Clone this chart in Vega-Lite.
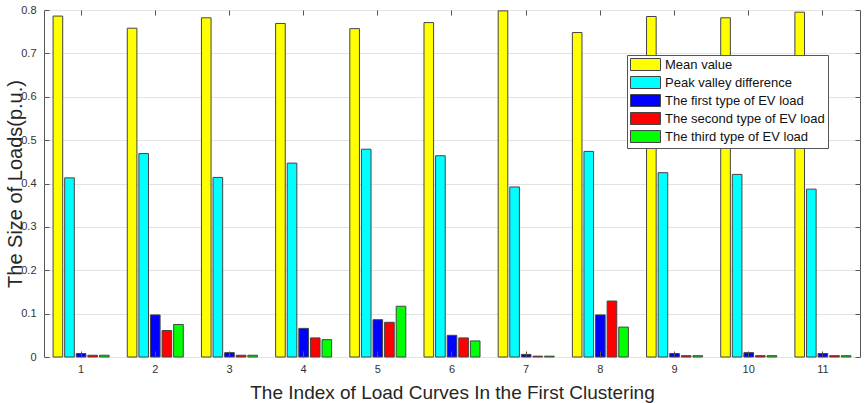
{
  "$schema": "https://vega.github.io/schema/vega-lite/v6.json",
  "width": 816,
  "height": 347,
  "autosize": "none",
  "padding": {"left": 44, "top": 10, "right": 5, "bottom": 46},
  "background": "white",
  "config": {
    "font": "Liberation Sans",
    "view": {"stroke": "#555555", "strokeWidth": 1},
    "axis": {"labelFont": "Liberation Sans", "titleFont": "Liberation Sans", "labelColor": "#333333", "titleColor": "#262626", "titleFontWeight": "normal"}
  },
  "data": {
    "values": [
      {"idx": 1, "series": "Mean value", "value": 0.786},
      {"idx": 1, "series": "Peak valley difference", "value": 0.413},
      {"idx": 1, "series": "The first type of EV load", "value": 0.008},
      {"idx": 1, "series": "The second type of EV load", "value": 0.004},
      {"idx": 1, "series": "The third type of EV load", "value": 0.004},
      {"idx": 2, "series": "Mean value", "value": 0.758},
      {"idx": 2, "series": "Peak valley difference", "value": 0.469},
      {"idx": 2, "series": "The first type of EV load", "value": 0.097},
      {"idx": 2, "series": "The second type of EV load", "value": 0.061},
      {"idx": 2, "series": "The third type of EV load", "value": 0.075},
      {"idx": 3, "series": "Mean value", "value": 0.782},
      {"idx": 3, "series": "Peak valley difference", "value": 0.414},
      {"idx": 3, "series": "The first type of EV load", "value": 0.010},
      {"idx": 3, "series": "The second type of EV load", "value": 0.004},
      {"idx": 3, "series": "The third type of EV load", "value": 0.004},
      {"idx": 4, "series": "Mean value", "value": 0.769},
      {"idx": 4, "series": "Peak valley difference", "value": 0.447},
      {"idx": 4, "series": "The first type of EV load", "value": 0.066},
      {"idx": 4, "series": "The second type of EV load", "value": 0.044},
      {"idx": 4, "series": "The third type of EV load", "value": 0.040},
      {"idx": 5, "series": "Mean value", "value": 0.757},
      {"idx": 5, "series": "Peak valley difference", "value": 0.479},
      {"idx": 5, "series": "The first type of EV load", "value": 0.086},
      {"idx": 5, "series": "The second type of EV load", "value": 0.080},
      {"idx": 5, "series": "The third type of EV load", "value": 0.117},
      {"idx": 6, "series": "Mean value", "value": 0.771},
      {"idx": 6, "series": "Peak valley difference", "value": 0.464},
      {"idx": 6, "series": "The first type of EV load", "value": 0.050},
      {"idx": 6, "series": "The second type of EV load", "value": 0.044},
      {"idx": 6, "series": "The third type of EV load", "value": 0.037},
      {"idx": 7, "series": "Mean value", "value": 0.798},
      {"idx": 7, "series": "Peak valley difference", "value": 0.392},
      {"idx": 7, "series": "The first type of EV load", "value": 0.006},
      {"idx": 7, "series": "The second type of EV load", "value": 0.002},
      {"idx": 7, "series": "The third type of EV load", "value": 0.002},
      {"idx": 8, "series": "Mean value", "value": 0.748},
      {"idx": 8, "series": "Peak valley difference", "value": 0.474},
      {"idx": 8, "series": "The first type of EV load", "value": 0.097},
      {"idx": 8, "series": "The second type of EV load", "value": 0.129},
      {"idx": 8, "series": "The third type of EV load", "value": 0.069},
      {"idx": 9, "series": "Mean value", "value": 0.785},
      {"idx": 9, "series": "Peak valley difference", "value": 0.425},
      {"idx": 9, "series": "The first type of EV load", "value": 0.008},
      {"idx": 9, "series": "The second type of EV load", "value": 0.003},
      {"idx": 9, "series": "The third type of EV load", "value": 0.003},
      {"idx": 10, "series": "Mean value", "value": 0.782},
      {"idx": 10, "series": "Peak valley difference", "value": 0.421},
      {"idx": 10, "series": "The first type of EV load", "value": 0.010},
      {"idx": 10, "series": "The second type of EV load", "value": 0.003},
      {"idx": 10, "series": "The third type of EV load", "value": 0.003},
      {"idx": 11, "series": "Mean value", "value": 0.795},
      {"idx": 11, "series": "Peak valley difference", "value": 0.387},
      {"idx": 11, "series": "The first type of EV load", "value": 0.008},
      {"idx": 11, "series": "The second type of EV load", "value": 0.003},
      {"idx": 11, "series": "The third type of EV load", "value": 0.003}
    ]
  },
  "resolve": {"axis": {"x": "independent", "y": "independent"}},
  "layer": [
    {
      "mark": {"type": "bar", "stroke": "#444444", "strokeWidth": 1},
      "encoding": {
        "x": {
          "field": "idx", "type": "ordinal",
          "scale": {"paddingInner": 0.245, "paddingOuter": 0.1225},
          "axis": {
            "orient": "bottom", "labelAngle": 0, "labelFontSize": 11, "labelPadding": 12,
            "tickSize": -6, "tickColor": "#555555", "domain": false, "grid": false, "zindex": 1,
            "title": "The Index of  Load Curves In the First Clustering",
            "titleFontSize": 19, "titlePadding": 9
          }
        },
        "xOffset": {
          "field": "series", "type": "nominal",
          "scale": {"domain": ["Mean value", "Peak valley difference", "The first type of EV load", "The second type of EV load", "The third type of EV load"], "paddingInner": 0.17, "paddingOuter": 0}
        },
        "y": {
          "field": "value", "type": "quantitative",
          "scale": {"domain": [0, 0.8], "nice": false, "zero": true},
          "axis": {
            "orient": "left", "values": [0, 0.1, 0.2, 0.3, 0.4, 0.5, 0.6, 0.7, 0.8], "format": ".1~f",
            "labelFontSize": 11, "labelPadding": 13, "tickSize": -5, "tickColor": "#555555",
            "domain": false, "grid": true, "gridColor": "#e3e3e3", "gridWidth": 1,
            "title": "The Size of Loads(p.u.)", "titleFontSize": 20, "titlePadding": -5
          }
        },
        "color": {
          "field": "series", "type": "nominal",
          "scale": {
            "domain": ["Mean value", "Peak valley difference", "The first type of EV load", "The second type of EV load", "The third type of EV load"],
            "range": ["#ffff00", "#00ffff", "#0000ff", "#ff0000", "#00ff00"]
          },
          "legend": {
            "orient": "none", "legendX": 583, "legendY": 45, "title": null,
            "fillColor": "white", "strokeColor": "#555555", "padding": 3,
            "labelFontSize": 13, "labelColor": "#111111", "labelFont": "Liberation Sans",
            "symbolType": "M-2.5,-1H2.5V1H-2.5Z", "symbolSize": 144, "symbolOffset": 9,
            "symbolStrokeColor": "#444444", "symbolStrokeWidth": 1, "symbolOpacity": 1,
            "rowPadding": 1, "labelOffset": 13
          }
        }
      }
    },
    {
      "mark": {"type": "point", "opacity": 0},
      "encoding": {
        "x": {
          "field": "idx", "type": "ordinal",
          "axis": {"orient": "top", "labels": false, "tickSize": -5, "tickColor": "#555555", "domain": false, "grid": false, "title": null}
        },
        "y": {
          "field": "value", "type": "quantitative",
          "axis": {"orient": "right", "labels": false, "values": [0, 0.1, 0.2, 0.3, 0.4, 0.5, 0.6, 0.7, 0.8], "tickSize": -5, "tickColor": "#555555", "domain": false, "grid": false, "title": null}
        }
      }
    }
  ]
}
